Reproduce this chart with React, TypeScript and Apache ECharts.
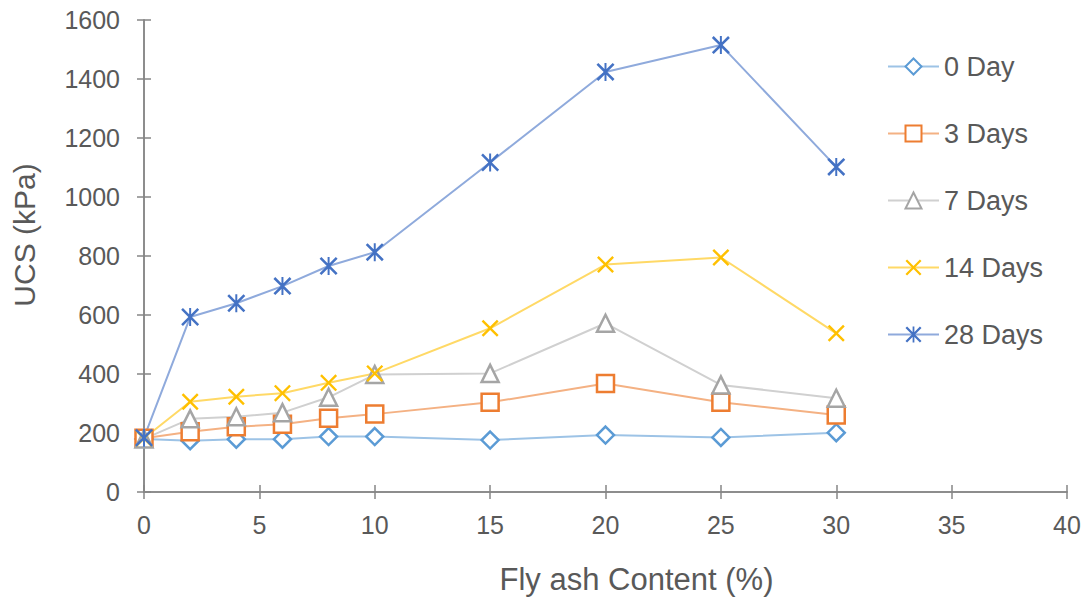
import { useEffect, useRef } from 'react'
import * as echarts from 'echarts'

// fly ash content (%)
const flyAsh = [0, 2, 4, 6, 8, 10, 15, 20, 25, 30]

// UCS (kPa) per curing period
const day0 = [180, 174, 179, 179, 188, 188, 176, 193, 185, 201]
const day3 = [182, 204, 221, 230, 250, 264, 304, 368, 304, 261]
const day7 = [180, 248, 255, 269, 321, 398, 402, 572, 363, 318]
const day14 = [182, 306, 323, 335, 370, 402, 555, 771, 795, 538]
const day28 = [184, 593, 640, 698, 766, 813, 1117, 1424, 1515, 1102]

const seriesNames = ['0 Day', '3 Days', '7 Days', '14 Days', '28 Days']

const FONT = '"Liberation Sans", Arial, sans-serif'
const TEXT = '#595959'
const AXIS = '#868686'

// filled cross and asterisk outlines (20x20 box)
const CROSS =
  'path://M0,2L2,0L10,8L18,0L20,2L12,10L20,18L18,20L10,12L2,20L0,18L8,10Z'
const STAR = CROSS + 'M8.9,0L11.1,0L11.1,20L8.9,20Z'

const pairs = (ys: number[]) => flyAsh.map((x, i) => [x, ys[i]])

export default function App() {
  const ref = useRef<HTMLDivElement>(null)

  useEffect(() => {
    if (!ref.current) return
    const chart = echarts.init(ref.current, null, { renderer: 'svg' })

    const hollow = (
      name: string,
      ys: number[],
      symbol: string,
      size: number,
      mark: string,
      line: string,
    ) => ({
      name,
      type: 'line',
      data: pairs(ys),
      symbol,
      symbolSize: size,
      lineStyle: { color: line, width: 2 },
      itemStyle: { color: '#ffffff', borderColor: mark, borderWidth: 2.5 },
    })

    const solid = (
      name: string,
      ys: number[],
      symbol: string,
      size: number,
      mark: string,
      line: string,
    ) => ({
      name,
      type: 'line',
      data: pairs(ys),
      symbol,
      symbolSize: size,
      lineStyle: { color: line, width: 2 },
      itemStyle: { color: mark, borderWidth: 0 },
    })

    const frameAxis = {
      axisLine: { show: true, lineStyle: { color: AXIS, width: 1.5 } },
      axisTick: { show: true, inside: true, length: 7, lineStyle: { color: AXIS, width: 1.5 } },
      splitLine: { show: false },
    }

    chart.setOption({
      animation: false,
      grid: { left: 144, right: 21, top: 20, bottom: 109, containLabel: false },
      legend: {
        orient: 'vertical',
        left: 887,
        top: 53,
        padding: 0,
        itemWidth: 51,
        itemHeight: 20,
        itemGap: 40,
        data: seriesNames,
        textStyle: { color: TEXT, fontFamily: FONT, fontSize: 27, lineHeight: 20, height: 20 },
      },
      xAxis: [
        {
          type: 'value',
          min: 0,
          max: 40,
          interval: 5,
          position: 'bottom',
          ...frameAxis,
          axisLabel: { color: TEXT, fontFamily: FONT, fontSize: 25, margin: 20 },
          name: 'Fly ash Content (%)',
          nameLocation: 'middle',
          nameGap: 72,
          nameTextStyle: { color: TEXT, fontFamily: FONT, fontSize: 31, padding: [0, 0, 0, 62] },
        },
        {
          type: 'value',
          min: 0,
          max: 40,
          interval: 5,
          position: 'top',
          ...frameAxis,
          axisLabel: { show: false },
        },
      ],
      yAxis: [
        {
          type: 'value',
          min: 0,
          max: 1600,
          interval: 200,
          position: 'left',
          ...frameAxis,
          axisLabel: {
            color: TEXT,
            fontFamily: FONT,
            fontSize: 25,
            margin: 24,
            formatter: (v: number) => String(v),
          },
          name: 'UCS (kPa)',
          nameLocation: 'middle',
          nameGap: 105,
          nameTextStyle: { color: TEXT, fontFamily: FONT, fontSize: 30, padding: [0, 0, 0, 42] },
        },
        {
          type: 'value',
          min: 0,
          max: 1600,
          interval: 200,
          position: 'right',
          ...frameAxis,
          axisLabel: { show: false },
        },
      ],
      series: [
        hollow(seriesNames[0], day0, 'diamond', 17, '#5B9BD5', '#9DC3E6'),
        hollow(seriesNames[1], day3, 'rect', 17, '#ED7D31', '#F4B183'),
        hollow(seriesNames[2], day7, 'triangle', 17, '#A5A5A5', '#D0D0D0'),
        solid(seriesNames[3], day14, CROSS, 17, '#FFC000', '#FFD966'),
        solid(seriesNames[4], day28, STAR, 18, '#4472C4', '#8FAADC'),
      ],
    })

    return () => chart.dispose()
  }, [])

  return (
    <div
      ref={ref}
      style={{ position: 'fixed', left: 0, top: 0, width: 1088, height: 601, background: '#fff' }}
    />
  )
}
